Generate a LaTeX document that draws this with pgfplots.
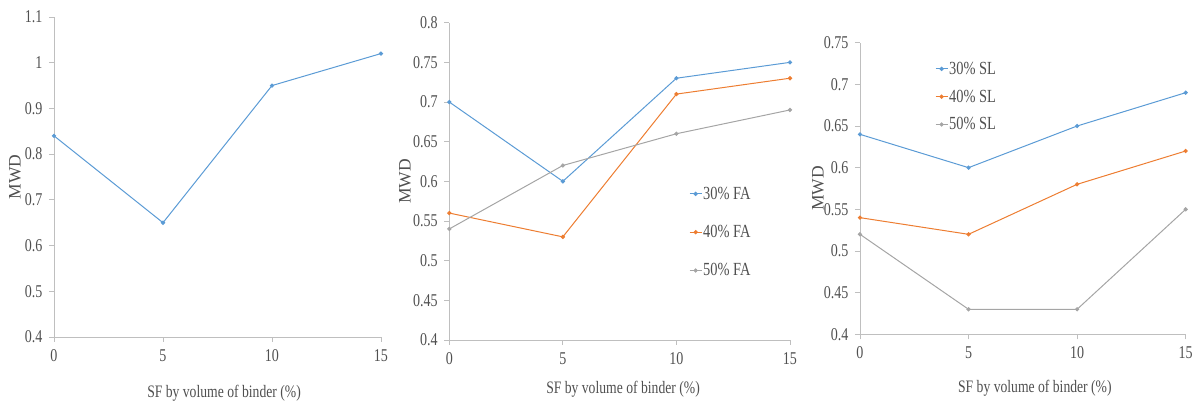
\documentclass[border=0pt]{standalone}
\usepackage{fontspec}
\setmainfont[FakeStretch=0.78]{Liberation Serif}
\newfontfamily\ylab{Liberation Serif}
\usepackage{pgfplots}
\pgfplotsset{compat=1.18}
\definecolor{cb}{HTML}{5B9BD5}
\definecolor{co}{HTML}{ED7D31}
\definecolor{cg}{HTML}{A5A5A5}
\definecolor{txt}{HTML}{505050}
\definecolor{axc}{HTML}{BFBFBF}
\pgfplotsset{
  mwd/.style={
    scale only axis, anchor=south west, clip=false,
    axis x line*=bottom, axis y line*=left,
    axis line style={draw=axc, line width=0.8pt, -},
    tick align=outside, major tick length=5pt,
    tick style={draw=axc, line width=0.8pt},
    xmin=0, xmax=15, xtick={0,5,10,15},
    /pgf/number format/assume math mode=true,
    ticklabel style={font=\fontsize{18}{19}\selectfont, text=txt},
    xticklabel style={yshift=-4pt},
    yticklabel style={xshift=-3pt, /pgf/number format/fixed},
    xlabel style={font=\fontsize{17.5}{19}\selectfont, text=txt},
    ylabel style={font=\ylab\fontsize{17.5}{19}\selectfont, text=txt},
    ylabel={MWD}, xlabel={SF by volume of binder (\%)},
    legend cell align=left,
    legend style={draw=none, fill=none, font=\fontsize{18.5}{20}\selectfont, text=txt, inner sep=0pt, nodes={inner sep=1pt}},
    legend image code/.code={\draw[mark repeat=2,mark phase=2,#1] plot coordinates {(0pt,0pt)(6pt,0pt)(12pt,0pt)};},
    every axis plot/.append style={line width=1pt, mark=*, mark size=1.6pt},
  }
}
\begin{document}
\begin{tikzpicture}
\path (0,0) rectangle (1196pt,403pt);
% Panel 1
\begin{axis}[mwd, at={(54pt,66pt)}, width=327pt, height=320pt,
  ymin=0.4, ymax=1.1, ytick={0.4,0.5,0.6,0.7,0.8,0.9,1,1.1},
  ylabel style={at={(axis description cs:-0.119,0.5)}, anchor=center},
  xlabel style={at={(axis description cs:0.52,-0.177)}, anchor=center}]
\addplot[cb, mark options={fill=cb}] coordinates {(0,0.84) (5,0.65) (10,0.95) (15,1.02)};
\end{axis}
% Panel 2
\begin{axis}[mwd, at={(449.3pt,63pt)}, width=340.7pt, height=317.3pt,
  ymin=0.4, ymax=0.8, ytick={0.4,0.45,0.5,0.55,0.6,0.65,0.7,0.75,0.8},
  ylabel style={at={(axis description cs:-0.130,0.5)}, anchor=center},
  xlabel style={at={(axis description cs:0.51,-0.155)}, anchor=center},
  legend style={at={(axis description cs:0.7035,0.486)}, anchor=north west, row sep=22.5pt}]
\addplot[cb, mark options={fill=cb}] coordinates {(0,0.70) (5,0.60) (10,0.73) (15,0.75)};
\addlegendentry{30\% FA}
\addplot[co, mark options={fill=co}] coordinates {(0,0.56) (5,0.53) (10,0.71) (15,0.73)};
\addlegendentry{40\% FA}
\addplot[cg, mark options={fill=cg}] coordinates {(0,0.54) (5,0.62) (10,0.66) (15,0.69)};
\addlegendentry{50\% FA}
\end{axis}
% Panel 3
\begin{axis}[mwd, at={(860pt,68.7pt)}, width=325.7pt, height=291.6pt,
  ymin=0.4, ymax=0.75, ytick={0.4,0.45,0.5,0.55,0.6,0.65,0.7,0.75},
  ylabel style={at={(axis description cs:-0.129,0.5)}, anchor=center},
  xlabel style={at={(axis description cs:0.537,-0.186)}, anchor=center},
  legend style={at={(axis description cs:0.230,0.938)}, anchor=north west, row sep=12pt}]
\addplot[cb, mark options={fill=cb}] coordinates {(0,0.64) (5,0.60) (10,0.65) (15,0.69)};
\addlegendentry{30\% SL}
\addplot[co, mark options={fill=co}] coordinates {(0,0.54) (5,0.52) (10,0.58) (15,0.62)};
\addlegendentry{40\% SL}
\addplot[cg, mark options={fill=cg}] coordinates {(0,0.52) (5,0.43) (10,0.43) (15,0.55)};
\addlegendentry{50\% SL}
\end{axis}
\end{tikzpicture}
\end{document}
